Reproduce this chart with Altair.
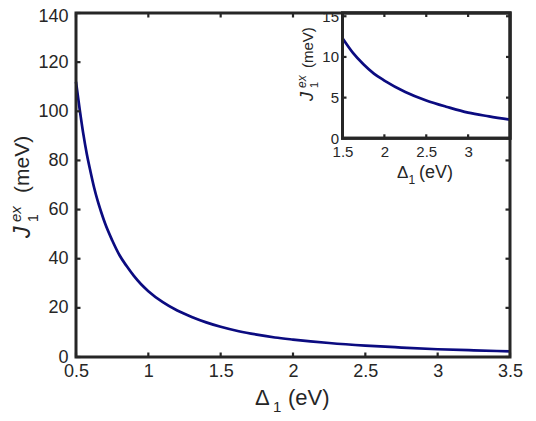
import altair as alt
import pandas as pd

# ---- data ----
delta = [0.50, 0.525, 0.55, 0.575, 0.60, 0.625, 0.65, 0.675, 0.70, 0.75, 0.80, 0.85, 0.90, 0.95,
         1.00, 1.10, 1.20, 1.30, 1.40, 1.50, 1.625, 1.75, 1.875, 2.00, 2.25, 2.50, 2.75,
         3.00, 3.25, 3.50]
J1ex = [112.0, 101.0, 91.0, 82.5, 75.5, 69.0, 63.5, 58.8, 54.5, 47.5, 41.5, 37.0, 33.0, 29.6,
        26.8, 22.3, 18.9, 16.3, 14.1, 12.3, 10.5, 9.1, 7.95, 7.1, 5.7, 4.65, 3.85,
        3.15, 2.7, 2.3]

main_x_ticks = [0.5, 1, 1.5, 2, 2.5, 3, 3.5]
main_y_ticks = [0, 20, 40, 60, 80, 100, 120, 140]
inset_x_ticks = [1.5, 2, 2.5, 3]
inset_y_ticks = [0, 5, 10, 15]

# ---- styling / layout ----
W, H = 434, 344
FRAME = "#262626"
LINE = "#0b0b80"
FONT = "Liberation Sans"
IX0, IX1 = 266.5, 434      # inset box, pixels inside the main view
IY0, IY1 = 0, 125.3

df = pd.DataFrame({"d": delta, "J": J1ex})
df_in = df[df["d"] >= 1.5]
one = pd.DataFrame({"k": [0]})

common = dict(domain=False, ticks=False, tickSize=0, grid=False, labelFlush=False,
              labelColor=FRAME, labelFont=FONT, title=None)

# ---------------- main panel ----------------
xs = alt.Scale(domain=[0.5, 3.5], nice=False, zero=False)
ys = alt.Scale(domain=[0, 140], nice=False, zero=False)
x_axis = alt.Axis(values=main_x_ticks, format="~r", orient="bottom",
                  labelFontSize=18, labelPadding=5, **common)
y_axis = alt.Axis(values=main_y_ticks, format="d", orient="left",
                  labelFontSize=18, labelPadding=8,
                  labelOffset={"condition": {"test": "datum.value == 140", "value": 3},
                               "value": 0},
                  **common)

X = alt.X("d:Q", scale=xs, axis=x_axis)
Y = alt.Y("J:Q", scale=ys, axis=y_axis)

xt = pd.DataFrame({"d": main_x_ticks})
yt = pd.DataFrame({"J": main_y_ticks})
TL = 4.5
rule = dict(color=FRAME, strokeWidth=2.2)

m_curve = alt.Chart(df).mark_line(color=LINE, strokeWidth=2.7, interpolate="monotone").encode(x=X, y=Y)
m_xb = alt.Chart(xt).mark_rule(**rule).encode(x=X, y=alt.value(H), y2=alt.value(H - TL))
m_xt = alt.Chart(xt).mark_rule(**rule).encode(x=X, y=alt.value(0), y2=alt.value(TL))
m_yl = alt.Chart(yt).mark_rule(**rule).encode(y=Y, x=alt.value(0), x2=alt.value(TL))
m_yr = alt.Chart(yt).mark_rule(**rule).encode(y=Y, x=alt.value(W), x2=alt.value(W - TL))
m_frame = alt.Chart(one).mark_rect(fillOpacity=0, stroke=FRAME, strokeWidth=3).encode(
    x=alt.value(0), x2=alt.value(W), y=alt.value(0), y2=alt.value(H))

main = alt.layer(m_curve, m_xb, m_xt, m_yl, m_yr, m_frame)

# ---------------- inset panel ----------------
ixs = alt.Scale(domain=[1.5, 3.5], range=[IX0, IX1], nice=False, zero=False)
iys = alt.Scale(domain=[0, 15.4], range=[IY1, IY0], nice=False, zero=False)
ix_axis = alt.Axis(values=inset_x_ticks, format="~r", orient="bottom",
                   offset=-(H - IY1), labelFontSize=15, labelPadding=6, **common)
iy_axis = alt.Axis(values=inset_y_ticks, format="d", orient="left",
                   offset=-IX0, labelFontSize=15, labelPadding=4, **common)
IXE = alt.X("d:Q", scale=ixs, axis=ix_axis)
IYE = alt.Y("J:Q", scale=iys, axis=iy_axis)

ixt = pd.DataFrame({"d": inset_x_ticks})
iyt = pd.DataFrame({"J": inset_y_ticks})
ITL = 4

i_bg = alt.Chart(one).mark_rect(fill="white", stroke=FRAME, strokeWidth=3).encode(
    x=alt.value(IX0), x2=alt.value(IX1), y=alt.value(IY0), y2=alt.value(IY1))
i_curve = alt.Chart(df_in).mark_line(color=LINE, strokeWidth=2.7, interpolate="monotone").encode(x=IXE, y=IYE)
i_xb = alt.Chart(ixt).mark_rule(**rule).encode(x=IXE, y=alt.value(IY1), y2=alt.value(IY1 - ITL))
i_xt = alt.Chart(ixt).mark_rule(**rule).encode(x=IXE, y=alt.value(IY0), y2=alt.value(IY0 + ITL))
i_yl = alt.Chart(iyt).mark_rule(**rule).encode(y=IYE, x=alt.value(IX0), x2=alt.value(IX0 + ITL))
i_yr = alt.Chart(iyt).mark_rule(**rule).encode(y=IYE, x=alt.value(IX1), x2=alt.value(IX1 - ITL))
i_frame = alt.Chart(one).mark_rect(fillOpacity=0, stroke=FRAME, strokeWidth=3).encode(
    x=alt.value(IX0), x2=alt.value(IX1), y=alt.value(IY0), y2=alt.value(IY1))

inset = alt.layer(i_bg, i_curve, i_xb, i_xt, i_yl, i_yr, i_frame)

# ---------------- titles (text pieces, view pixel coords) ----------------
OX, OY = 76, 13  # page position of the view origin


def txt(s, px, py, size, italic=False, angle=0):
    kw = dict(text=s, font=FONT, fontSize=size, color=FRAME, align="left",
              baseline="alphabetic")
    if italic:
        kw["fontStyle"] = "italic"
    if angle:
        kw["angle"] = angle
    return alt.Chart(one).mark_text(**kw).encode(x=alt.value(px - OX), y=alt.value(py - OY))


titles = alt.layer(
    # main x title
    txt("\u0394", 255, 405, 22),
    txt("1", 273, 411.5, 15),
    txt("(eV)", 288, 405, 22),
    # main y title (rotated)
    txt("J", 30, 238, 23, italic=True, angle=270),
    txt("ex", 21, 222, 15, italic=True, angle=270),
    txt("1", 38, 222, 14, angle=270),
    txt("(meV)", 29, 193, 21, angle=270),
    # inset x title
    txt("\u0394", 397, 178, 17),
    txt("1", 408.5, 184, 12),
    txt("(eV)", 419, 178, 18),
    # inset y title (rotated)
    txt("J", 313, 101, 18, italic=True, angle=270),
    txt("ex", 306, 88, 12, italic=True, angle=270),
    txt("1", 318, 88, 11, angle=270),
    txt("(meV)", 313, 68, 15, angle=270),
)

chart = alt.layer(main, inset, titles).resolve_scale(
    x="independent", y="independent"
).properties(
    width=W, height=H,
    autosize=alt.AutoSizeParams(type="none"),
    padding={"left": 68, "top": 5, "right": 18, "bottom": 56},
).configure_view(stroke=None)

chart.save("out.html", embed_options={"renderer": "svg", "actions": False})
